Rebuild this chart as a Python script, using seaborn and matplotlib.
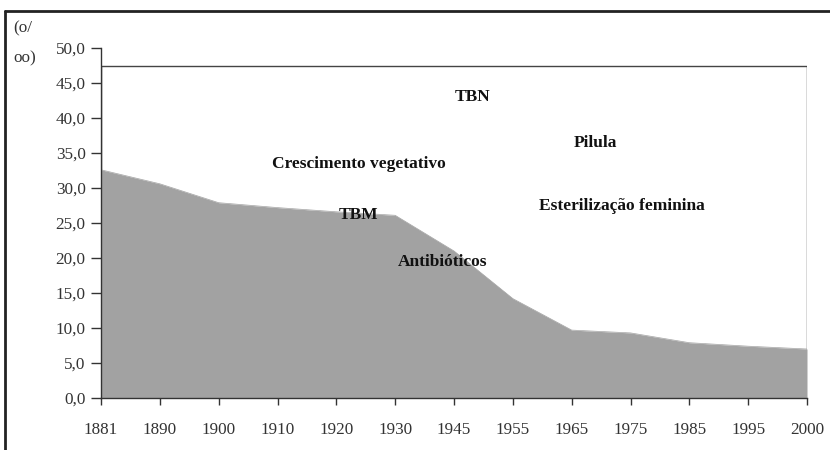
import matplotlib
matplotlib.use("Agg")
import matplotlib.pyplot as plt
from matplotlib.lines import Line2D
from matplotlib.patches import Rectangle
import seaborn as sns
import pandas as pd
import numpy as np

years = ["1881", "1890", "1900", "1910", "1920", "1930", "1945",
         "1955", "1965", "1975", "1985", "1995", "2000"]
rate = [32.6, 30.6, 27.9, 27.2, 26.6, 26.1, 21.0,
        14.2, 9.7, 9.3, 7.9, 7.4, 7.0]
y_ticks = [0, 5, 10, 15, 20, 25, 30, 35, 40, 45, 50]
y_tick_labels = ["0,0", "5,0", "10,0", "15,0", "20,0", "25,0", "30,0",
                 "35,0", "40,0", "45,0", "50,0"]
box_top = 47.4
labels = ["TBN", "Pilula", "Crescimento vegetativo", "TBM",
          "Esterilização feminina", "Antibióticos"]
label_x = [6.31, 8.40, 4.38, 4.38, 8.86, 5.80]
label_y = [43.0, 36.4, 33.5, 26.1, 27.5, 19.4]

sns.set_style("white")
plt.rcParams["font.family"] = ["Liberation Serif", "DejaVu Serif"]

df = pd.DataFrame({"pos": np.arange(len(years)), "rate": rate})

fig = plt.figure(figsize=(8.3, 4.5), dpi=100)
ax = fig.add_axes([101 / 830, 1 - 398 / 450, (807 - 101) / 830, (398 - 48) / 450])

fill_col = "#a2a2a2"
sns.lineplot(data=df, x="pos", y="rate", ax=ax, color=fill_col, lw=0.5)
ax.fill_between(df["pos"], 0, df["rate"], color=fill_col, lw=0, zorder=1)

# plot-area frame
ax.add_patch(Rectangle((0, 0), len(years) - 1, box_top, fill=False,
                       edgecolor="#444444", lw=1.0, zorder=0.5))

ax.set_xlim(0, len(years) - 1)
ax.set_ylim(0, 50)
ax.set_xticks(df["pos"])
ax.set_xticklabels(years)
ax.set_yticks(y_ticks)
ax.set_yticklabels(y_tick_labels)
ax.set_xlabel("")
ax.set_ylabel("")
for s in ["top", "right"]:
    ax.spines[s].set_visible(False)
for s in ["left", "bottom"]:
    ax.spines[s].set_color("#333333")
    ax.spines[s].set_linewidth(1.0)
ax.tick_params(axis="y", which="both", left=True, length=7, width=1,
               color="#333333", labelsize=12.3, labelcolor="#333333", pad=4)
ax.tick_params(axis="x", which="both", bottom=True, length=5, width=1,
               color="#333333", labelsize=12.3, labelcolor="#333333", pad=12)

for t, x, y in zip(labels, label_x, label_y):
    ax.text(x, y, t, ha="center", va="center", fontsize=12.5,
            fontweight="bold", color="#111111", zorder=5)

# unit label
fig.text(13 / 830, 1 - 28 / 450, "(o/", fontsize=12.3, color="#333333",
         ha="left", va="center")
fig.text(13 / 830, 1 - 58 / 450, "oo)", fontsize=12.3, color="#333333",
         ha="left", va="center")

# outer frame (scan border)
fig.add_artist(Line2D([5 / 830, 5 / 830], [0, 1 - 11 / 450],
                      transform=fig.transFigure, color="#222222", lw=2))
fig.add_artist(Line2D([5 / 830, 1], [1 - 11 / 450, 1 - 11 / 450],
                      transform=fig.transFigure, color="#222222", lw=2))

fig.savefig("out.png", dpi=100)
